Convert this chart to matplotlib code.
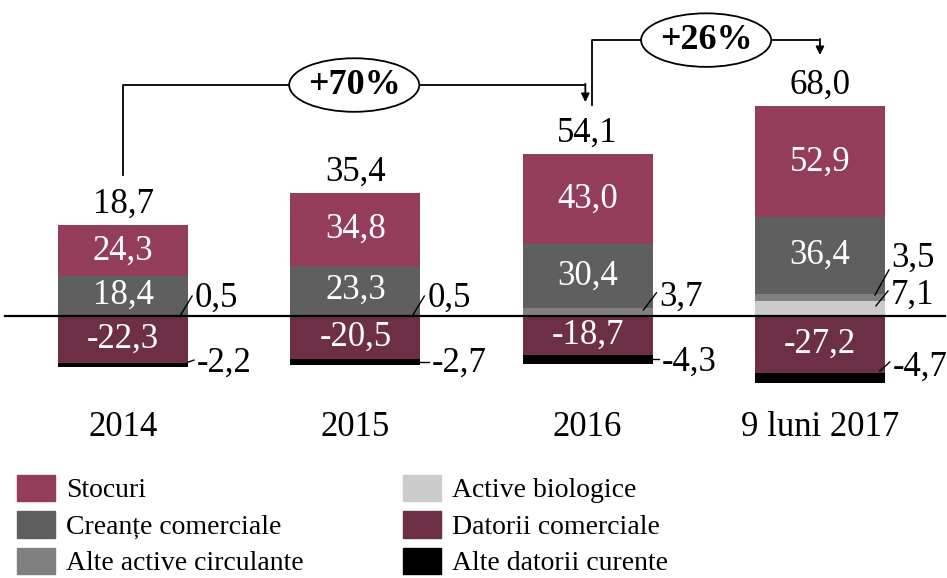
import numpy as np
import matplotlib
matplotlib.use('Agg')
import matplotlib.pyplot as plt
from matplotlib.patches import Ellipse, Patch

plt.rcParams['font.family'] = ['Liberation Serif', 'DejaVu Serif']

# data (mil. lei)
years = ['2014', '2015', '2016', '9 luni 2017']
stocuri = [24.3, 34.8, 43.0, 52.9]
creante = [18.4, 23.3, 30.4, 36.4]
alte_active = [0.5, 0.5, 3.7, 3.5]
biologice = [0.0, 0.0, 0.0, 7.1]
datorii = [-22.3, -20.5, -18.7, -27.2]
alte_datorii = [-2.2, -2.7, -4.3, -4.7]
totals = [18.7, 35.4, 54.1, 68.0]
growth = ['+70%', '+26%']

c_stoc = '#943d5b'
c_cre = '#5f5f5f'
c_alte = '#808080'
c_bio = '#cccccc'
c_dat = '#6d2f45'
c_altd = '#000000'

def fmt(v):
    return ('%.1f' % v).replace('.', ',')

fig = plt.figure(figsize=(9.47, 5.78), dpi=100)
ax = fig.add_axes([0, 0, 1, 1])
ax.set_xlim(-0.53, 3.547)
ax.set_ylim(-124.8, 150.5)
ax.axis('off')

x = np.arange(len(years))
w = 0.56
fs = 25

bio = np.array(biologice)
alt = np.array(alte_active)
cre = np.array(creante)
sto = np.array(stocuri)
dat = np.array(datorii)
ald = np.array(alte_datorii)

ax.bar(x, bio, w, color=c_bio)
ax.bar(x, alt, w, bottom=bio, color=c_alte)
ax.bar(x, cre, w, bottom=bio + alt, color=c_cre)
ax.bar(x, sto, w, bottom=bio + alt + cre, color=c_stoc)
ax.bar(x, dat, w, color=c_dat)
ax.bar(x, ald, w, bottom=dat, color=c_altd)
ax.axhline(0, xmin=0.005, xmax=0.998, color='black', lw=1.6)

top = bio + alt + cre + sto
for i in range(len(x)):
    ax.text(x[i], bio[i] + alt[i] + cre[i] / 2, fmt(cre[i]), color='white',
            ha='center', va='center', fontsize=fs)
    ax.text(x[i], top[i] - sto[i] / 2, fmt(sto[i]), color='white',
            ha='center', va='center', fontsize=fs)
    ax.text(x[i], dat[i] / 2, fmt(dat[i]), color='white',
            ha='center', va='center', fontsize=fs)
    ax.text(x[i], top[i] + 2.2, fmt(totals[i]), ha='center', va='bottom', fontsize=fs)
    ax.text(x[i], -53, years[i], ha='center', va='center', fontsize=fs)

# side labels for the thin segments
def leader(xi, x0, y0, x1, y1, ty, txt):
    ax.plot([xi + x0, xi + x1], [y0, y1], color='black', lw=1)
    ax.text(xi + x1 + 0.012, ty, txt, ha='left', va='center', fontsize=fs)

leader(0, 0.245, 0, 0.297, 9.5, 8.6, fmt(alte_active[0]))
leader(1, 0.245, 0, 0.297, 9.5, 8.6, fmt(alte_active[1]))
leader(2, 0.24, 2.9, 0.296, 11, 9, fmt(alte_active[2]))
leader(3, 0.237, 10, 0.297, 21.9, 27.6, fmt(alte_active[3]))
leader(3, 0.241, 4.8, 0.293, 11.9, 10, fmt(biologice[3]))

leader(0, 0.28, -22, 0.305, -21, -22.5, fmt(alte_datorii[0]))
leader(1, 0.28, -22, 0.315, -22, -22.5, fmt(alte_datorii[1]))
leader(2, 0.28, -20.5, 0.306, -20.5, -22, fmt(alte_datorii[2]))
leader(3, 0.258, -26.2, 0.301, -21.9, -24.3, fmt(alte_datorii[3]))

# growth brackets
def bracket(x0, x1, y0, ylev, y1, txt):
    ax.plot([x0, x0, x1], [y0, ylev, ylev], color='black', lw=1.3)
    ax.annotate('', xy=(x1, y1), xytext=(x1, ylev + 0.6),
                arrowprops=dict(arrowstyle='-|>', color='black', lw=1.3,
                                mutation_scale=12, shrinkA=0, shrinkB=0))
    xm = (x0 + x1) / 2
    ax.add_patch(Ellipse((xm, ylev), 0.56, 25.5, facecolor='white',
                         edgecolor='black', lw=1.3, zorder=3))
    ax.text(xm, ylev, txt, ha='center', va='center', fontsize=fs + 1,
            fontweight='bold', zorder=4)

bracket(x[0], x[2] - 0.01, top[0] + 24, 110, top[2] + 24.8, growth[0])
bracket(x[2] + 0.02, x[3], top[2] + 23.4, 131.4, top[3] + 24.4, growth[1])

handles = [Patch(color=c_stoc), Patch(color=c_cre), Patch(color=c_alte),
           Patch(color=c_bio), Patch(color=c_dat), Patch(color=c_altd)]
labels = ['Stocuri', 'Creanțe comerciale', 'Alte active circulante',
          'Active biologice', 'Datorii comerciale', 'Alte datorii curente']
fig.legend(handles, labels, ncol=2, loc='upper left', bbox_to_anchor=(0.018, 0.179),
           frameon=False, fontsize=20, handlelength=1.35, handleheight=1.1,
           handletextpad=0.4, labelspacing=0.28, columnspacing=3.6,
           borderpad=0, borderaxespad=0)

fig.savefig('out.png', dpi=100)
